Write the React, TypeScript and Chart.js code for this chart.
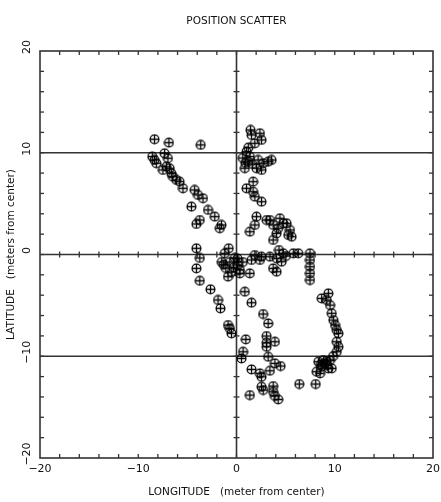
import { useEffect, useRef } from 'react';
import { Chart, registerables } from 'chart.js';
Chart.register(...registerables);

const chartTitle = 'POSITION SCATTER';
const xTitle = 'LONGITUDE   (meter from center)';
const yTitle = 'LATITUDE   (meters from center)';
const tickValues = [-20, -10, 0, 10, 20];
const tickLabels = ['\u221220', '\u221210', '0', '10', '20'];
const refLinesY = [10, 0, -10];
const refLinesX = [0];

const lon = [
  -8.34, -6.88, -3.64, -7.32, -8.57, -8.34, -8.16, -6.98, -7.14, -6.81, -7.49, -6.63, -6.47, -6.12, -5.79, -5.45,
  -4.26, -3.92, -3.41, -4.59, -2.90, -2.21, -3.74, -4.08, -1.53, -1.70,
  -4.08, -3.74, -4.08, -3.74, -2.65, -1.88, -1.63, -0.86, -0.68, -0.51, 0.95, 0.67, 0.51, 1.53, 1.36,
  2.71, 3.22, 3.06, 3.06, 3.91, 3.06, 3.22, 3.91, 4.49, 2.38, 2.55, 3.40, 2.55, 2.71, 3.73, 3.73, 3.91, 4.24, 6.39, 8.06,
  0.85, 1.53,
  9.69, 9.86, 10.03, 10.20, 10.37, 10.20, 10.37, 10.20, 9.35, 8.67, 9.18, 9.52,
  8.33, 8.84, 9.18, 9.52, 8.67, 9.18, 9.35, 8.16, 8.50, 9.69, 9.83, 9.00, 8.60,
  7.48, 7.48, 7.48, 7.48, 7.48,
  1.87, 2.55, 3.40, 4.76, 5.78, 6.29, 1.53, 2.38, 4.08, 4.59, 3.73, 4.08, 1.36, 5.03, 4.32,
  2.04, 1.87, 1.36, 3.40, 4.42, 4.76, 3.73, 4.24, 5.44, 5.27, 5.61, 4.08, 3.73, 3.06, 5.10,
  1.43, 1.53, 2.38, 2.55, 1.87, 1.02, 1.36, 1.18, 0.85, 2.20, 2.71, 3.22, 3.57, 2.04, 2.55, 1.69, 1.02, 1.69, 1.87, 2.55, 0.64,
  1.20, 1.60, 0.90,
  -0.79, -1.19, -1.50, -1.09, -0.68, -0.17, 0.13, 0.34, -0.48, -0.86, 0.64, 0.34, -1.30, 0.10, -0.30,
];
const lat = [
  11.33, 10.99, 10.77, 9.95, 9.62, 9.29, 8.97, 9.46, 8.63, 8.48, 8.31, 7.98, 7.65, 7.33, 7.16, 6.51,
  6.34, 5.85, 5.53, 4.70, 4.38, 3.72, 3.39, 3.00, 2.90, 2.58,
  0.61, -0.34, -1.36, -2.58, -3.42, -4.47, -5.29, -6.93, -7.26, -7.75, -8.34, -9.56, -10.21, -11.29, -13.82,
  -5.85, -6.77, -8.01, -8.67, -8.57, -9.07, -10.05, -10.70, -10.96, -11.68, -12.02, -11.43, -13.0, -13.32, -12.93, -13.49, -13.91, -14.24, -12.73, -12.73,
  -3.66, -4.74,
  -5.78, -6.44, -6.93, -7.42, -7.75, -8.57, -9.07, -9.56, -3.82, -4.31, -4.47, -4.97,
  -10.54, -10.37, -10.54, -10.37, -11.03, -10.87, -11.19, -11.52, -11.68, -11.19, -10.0, -10.70, -10.80,
  0.12, -0.54, -1.20, -1.85, -2.51,
  -0.05, -0.22, -0.22, 0.12, 0.12, 0.12, -0.54, -0.54, -0.37, -0.71, -1.36, -1.69, -1.85, -0.15, 0.44,
  3.72, 2.90, 2.24, 3.39, 3.56, 3.07, 2.90, 2.58, 2.41, 1.92, 1.75, 2.08, 1.43, 3.39, 3.07,
  12.24, 11.75, 11.92, 11.26, 10.93, 10.11, 9.62, 9.12, 8.48, 9.29, 8.97, 9.12, 9.29, 8.48, 8.31, 7.16, 6.51, 6.17, 5.68, 5.19, 9.49,
  10.50, 8.90, 9.00,
  0.61, 0.12, -0.74, -1.33, -0.74, -0.34, -1.03, -1.52, -1.72, -2.18, -0.74, -1.85, -1.00, -0.40, -1.30,
];

function makeMarker(): HTMLCanvasElement {
  const c = document.createElement('canvas');
  c.width = 11;
  c.height = 11;
  const g = c.getContext('2d')!;
  g.strokeStyle = '#000';
  g.lineWidth = 1.3;
  g.beginPath();
  g.arc(5.5, 5.5, 4.4, 0, Math.PI * 2);
  g.stroke();
  g.beginPath();
  g.moveTo(5.5, 1);
  g.lineTo(5.5, 10);
  g.moveTo(1, 5.5);
  g.lineTo(10, 5.5);
  g.stroke();
  return c;
}

const FONT = '"DejaVu Sans", "Liberation Sans", sans-serif';

const decorPlugin = {
  id: 'decor',
  beforeDatasetsDraw(chart: any) {
    const { ctx, chartArea: a, scales } = chart;
    const x = scales.x;
    const y = scales.y;
    ctx.save();
    ctx.strokeStyle = '#333';
    ctx.lineWidth = 1.6;
    const line = (x1: number, y1: number, x2: number, y2: number) => {
      ctx.beginPath();
      ctx.moveTo(x1, y1);
      ctx.lineTo(x2, y2);
      ctx.stroke();
    };
    ctx.strokeRect(a.left, a.top, a.right - a.left, a.bottom - a.top);
    refLinesY.forEach((v) => {
      const py = y.getPixelForValue(v);
      line(a.left, py, a.right, py);
    });
    refLinesX.forEach((v) => {
      const px = x.getPixelForValue(v);
      line(px, a.top, px, a.bottom);
    });
    ctx.lineWidth = 1.3;
    const y0 = y.getPixelForValue(0);
    const x0 = x.getPixelForValue(0);
    for (let v = -18; v <= 18; v += 2) {
      const px = x.getPixelForValue(v);
      line(px, a.bottom, px, a.bottom - 4);
      line(px, a.top, px, a.top + 4);
      if (v !== 0) line(px, y0 - 3, px, y0 + 3);
      const py = y.getPixelForValue(v);
      line(a.left, py, a.left + 4, py);
      line(a.right, py, a.right - 4, py);
      if (v !== 0) line(x0 - 3, py, x0 + 3, py);
    }
    ctx.fillStyle = '#111';
    ctx.font = '11px ' + FONT;
    ctx.textBaseline = 'middle';
    ctx.textAlign = 'center';
    tickValues.forEach((v, i) => {
      const px = x.getPixelForValue(v);
      ctx.fillText(tickLabels[i], px, 469);
    });
    tickValues.forEach((v, i) => {
      const py = y.getPixelForValue(v);
      ctx.save();
      ctx.translate(27, py - 4);
      ctx.rotate(-Math.PI / 2);
      ctx.fillText(tickLabels[i], 0, 0);
      ctx.restore();
    });
    ctx.font = '10.5px ' + FONT;
    ctx.fillText(xTitle, (a.left + a.right) / 2, 492);
    ctx.save();
    ctx.translate(11, (a.top + a.bottom) / 2);
    ctx.rotate(-Math.PI / 2);
    ctx.fillText(yTitle, 0, 0);
    ctx.restore();
    ctx.font = '10.5px ' + FONT;
    ctx.fillText(chartTitle, (a.left + a.right) / 2, 21);
    ctx.restore();
  },
};

export default function App() {
  const ref = useRef<HTMLCanvasElement | null>(null);
  useEffect(() => {
    document.body.style.margin = '0';
    const marker = makeMarker();
    const chart = new Chart(ref.current!, {
      type: 'scatter',
      data: {
        datasets: [
          {
            data: lon.map((v, i) => ({ x: v, y: lat[i] })),
            pointStyle: marker as any,
            pointRadius: 5,
          },
        ],
      },
      options: {
        responsive: false,
        animation: false,
        layout: { padding: { left: 40, top: 51, right: 8, bottom: 44 } },
        plugins: { legend: { display: false }, tooltip: { enabled: false } },
        scales: {
          x: { type: 'linear', min: -20, max: 20, display: false },
          y: { type: 'linear', min: -20, max: 20, display: false },
        },
      },
      plugins: [decorPlugin],
    });
    return () => chart.destroy();
  }, []);
  return (
    <div style={{ width: 441, height: 502, background: '#fff' }}>
      <canvas ref={ref} width={441} height={502} />
    </div>
  );
}
